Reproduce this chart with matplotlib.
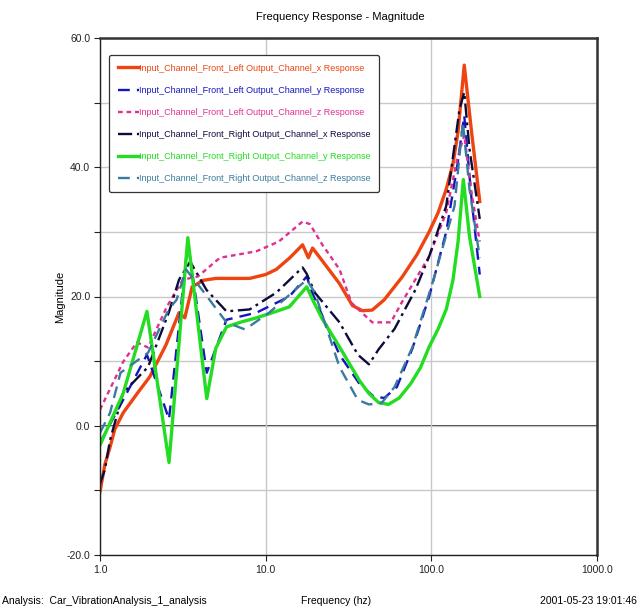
import matplotlib

matplotlib.use("Agg")
import matplotlib.pyplot as plt
from matplotlib import font_manager

# Narrow sans if present, otherwise plain Liberation Sans
names = {f.name for f in font_manager.fontManager.ttflist}
FONT = "Liberation Sans Narrow" if "Liberation Sans Narrow" in names else "Liberation Sans"
plt.rcParams["font.family"] = [FONT, "DejaVu Sans"]

# Series (frequency in Hz, magnitude)
red_f = [1.0, 1.07, 1.15, 1.23, 1.38, 1.7, 2.0, 2.5, 3.0, 3.25, 3.6, 4.2, 5.0, 6.5, 8.0,
         10.0, 11.6, 14.0, 16.7, 18.1, 19.2, 22.0, 27.9, 33.4, 38.4, 44.0, 52.0, 66.6, 82.0,
         97.0, 110.0, 123.0, 135.0, 145.0, 158.0, 175.0, 196.0]
red_v = [-10.2, -6.0, -3.3, -0.5, 2.0, 5.2, 7.6, 12.5, 17.5, 16.7, 21.5, 22.5, 22.8, 22.8,
         22.8, 23.4, 24.2, 26.0, 28.0, 26.0, 27.5, 25.5, 22.0, 18.6, 17.8, 17.9, 19.5, 23.0,
         26.5, 30.0, 33.0, 36.6, 40.5, 45.5, 55.8, 45.4, 34.7]

blue_f = [1.0, 1.38, 1.92, 2.61, 3.39, 4.41, 5.8, 8.8, 13.9, 17.7, 18.8, 22.0, 27.9, 36.8,
          45.0, 52.0, 62.0, 77.0, 97.0, 123.0, 143.0, 158.0, 175.0, 196.0]
blue_v = [-2.6, 4.0, 11.0, 1.0, 28.4, 8.2, 16.4, 17.5, 20.0, 23.1, 21.0, 17.0, 11.0, 6.5,
          4.5, 4.3, 6.0, 12.0, 20.0, 30.0, 40.0, 48.0, 35.0, 23.4]

mag_f = [1.0, 1.38, 1.67, 1.95, 2.53, 3.16, 3.9, 5.3, 8.8, 12.0, 16.7, 18.5, 22.0, 27.9,
         33.0, 44.0, 57.0, 66.0, 97.0, 123.0, 143.0, 158.0, 175.0, 196.0]
mag_v = [2.5, 9.9, 12.9, 12.1, 18.4, 22.6, 23.1, 26.0, 27.0, 28.5, 31.6, 31.2, 28.0, 24.2,
         19.0, 16.0, 16.0, 19.0, 26.2, 33.0, 41.2, 45.0, 36.0, 28.5]

navy_f = [1.0, 1.07, 1.15, 1.38, 1.95, 2.6, 3.0, 3.5, 4.4, 5.8, 8.0, 11.6, 16.7, 17.7, 19.8,
          27.9, 36.0, 42.0, 48.0, 60.0, 80.0, 97.0, 123.0, 148.0, 158.0, 170.0, 196.0]
navy_v = [-9.0, -6.8, -2.2, 5.1, 9.1, 17.5, 22.6, 25.4, 21.0, 17.7, 18.0, 20.6, 24.5, 23.5,
          20.6, 16.0, 11.0, 9.5, 11.8, 15.0, 21.0, 26.2, 34.0, 49.0, 51.6, 42.8, 32.0]

green_f = [1.0, 1.38, 1.92, 2.61, 3.39, 4.41, 5.0, 5.8, 7.0, 8.8, 11.0, 13.9, 17.7, 19.2,
           22.0, 27.9, 36.8, 42.0, 48.0, 55.0, 64.0, 75.0, 86.0, 97.0, 110.0, 123.0, 135.0,
           145.0, 156.0, 170.0, 196.0]
green_v = [-3.0, 5.0, 17.7, -5.7, 29.1, 4.2, 12.0, 15.3, 16.0, 16.7, 17.5, 18.4, 21.5, 19.5,
           16.5, 12.2, 7.0, 5.0, 3.6, 3.3, 4.3, 6.5, 9.0, 12.2, 15.0, 18.0, 22.5, 28.5, 38.1,
           29.3, 20.0]

steel_f = [1.0, 1.15, 1.33, 1.95, 2.6, 2.9, 3.3, 4.0, 5.8, 7.5, 10.5, 17.7, 19.8, 27.9,
           36.0, 42.0, 50.0, 60.0, 77.0, 103.0, 138.0, 155.0, 170.0, 196.0]
steel_v = [-1.1, 2.0, 8.2, 11.3, 18.0, 19.5, 24.2, 21.5, 16.0, 14.9, 17.5, 22.6, 20.6, 9.1,
           4.0, 3.3, 3.5, 6.0, 12.2, 22.6, 34.0, 47.0, 36.6, 26.0]

labels = [
    "Input_Channel_Front_Left Output_Channel_x Response",
    "Input_Channel_Front_Left Output_Channel_y Response",
    "Input_Channel_Front_Left Output_Channel_z Response",
    "Input_Channel_Front_Right Output_Channel_x Response",
    "Input_Channel_Front_Right Output_Channel_y Response",
    "Input_Channel_Front_Right Output_Channel_z Response",
]

x_ticks = [1.0, 10.0, 100.0, 1000.0]
x_tick_labels = ["1.0", "10.0", "100.0", "1000.0"]
y_label_ticks = [-20, 0, 20, 40, 60]

series = [
    (red_f, red_v, "#ee4411", 2.4, "-"),
    (blue_f, blue_v, "#1515c0", 1.7, (0, (5, 3))),
    (mag_f, mag_v, "#e0308f", 1.7, (0, (2, 1.6))),
    (navy_f, navy_v, "#0c0c3c", 1.7, (0, (6, 2, 1.2, 2))),
    (green_f, green_v, "#22dd22", 2.4, "-"),
    (steel_f, steel_v, "#3a7a9c", 1.7, (0, (5, 3))),
]

fig = plt.figure(figsize=(6.39, 6.11), dpi=100)
ax = fig.add_axes([100 / 639, 1 - 555 / 611, 497 / 639, 517 / 611])

for (f, v, c, lw, ls), lab in zip(series, labels):
    ax.plot(f, v, color=c, lw=lw, linestyle=ls, label=lab)

ax.set_xscale("log")
ax.set_xlim(1, 1000)
ax.set_ylim(-20, 60)

ax.set_xticks(x_ticks)
ax.set_xticklabels(x_tick_labels)
ax.xaxis.set_minor_locator(matplotlib.ticker.NullLocator())
ax.set_yticks(range(-20, 61, 10))
ax.set_yticklabels([f"{t:.1f}" if t in y_label_ticks else "" for t in range(-20, 61, 10)])

ax.grid(True, color="#c8c8c8", lw=1.0)
ax.axhline(0, color="#333333", lw=1.4, zorder=1.5)
ax.tick_params(direction="out", length=4, width=0.8, labelsize=7.5, colors="#222222", pad=3)

for side in ["left", "bottom"]:
    ax.spines[side].set_color("#222222")
    ax.spines[side].set_linewidth(1.0)
for side in ["top", "right"]:
    ax.spines[side].set_color("#333333")
    ax.spines[side].set_linewidth(1.8)

ax.set_ylabel("Magnitude", fontsize=8, labelpad=1)

leg = ax.legend(
    loc="upper left",
    bbox_to_anchor=(0.018, 0.967),
    fontsize=6.5,
    labelcolor="linecolor",
    handlelength=2.4,
    handletextpad=0.0,
    labelspacing=1.45,
    borderpad=0.95,
    borderaxespad=0.0,
    frameon=True,
    fancybox=True,
    framealpha=1.0,
)
leg.get_frame().set_edgecolor("#333333")
leg.get_frame().set_linewidth(0.9)

fig.text(340 / 639, 1 - 17 / 611, "Frequency Response - Magnitude", ha="center", va="center", fontsize=8)
fig.text(2 / 639, 1 - 601 / 611, "Analysis:  Car_VibrationAnalysis_1_analysis", ha="left", va="center", fontsize=7.5)
fig.text(336 / 639, 1 - 601 / 611, "Frequency (hz)", ha="center", va="center", fontsize=7.5)
fig.text(637 / 639, 1 - 601 / 611, "2001-05-23 19:01:46", ha="right", va="center", fontsize=7.5)

fig.savefig("out.png", dpi=100)
